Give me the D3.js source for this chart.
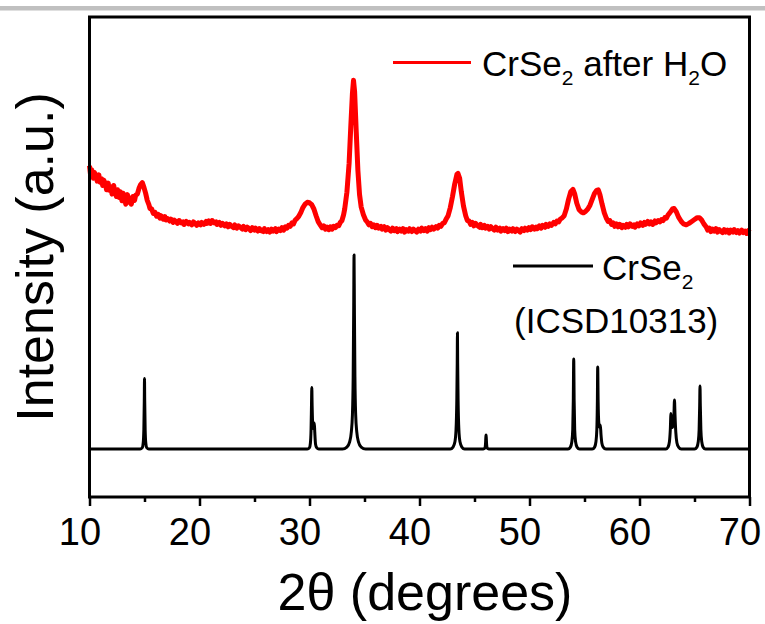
<!DOCTYPE html>
<html>
<head>
<meta charset="utf-8">
<script src="https://cdn.jsdelivr.net/npm/d3@7"></script>
<style>
body { margin: 0; background: #fff; }
text { font-family: "Liberation Sans", Arial, sans-serif; fill: #000; }
</style>
</head>
<body>
<div id="chart"></div>
<script>
// tick values on the 2theta axis
var xTicks = [10, 20, 30, 40, 50, 60, 70];
var xMinorTicks = [15, 25, 35, 45, 55, 65];

// measured pattern, CrSe2 after H2O  [2theta, intensity]
var afterH2O = [
    [10.0, 69.0], [10.1, 67.0], [10.2, 68.2], [10.35, 66.4], [10.45, 67.6], [10.6, 66.9], [10.7, 65.8],
    [10.85, 67.1], [10.95, 65.6], [11.1, 66.3], [11.2, 64.9], [11.3, 66.0], [11.45, 65.2], [11.55, 64.0],
    [11.7, 65.4], [11.8, 63.9], [11.95, 64.6], [12.05, 63.1], [12.2, 64.9], [12.3, 63.5], [12.45, 62.6],
    [12.55, 64.0], [12.7, 62.4], [12.8, 63.6], [12.95, 61.7], [13.05, 63.3], [13.2, 62.2], [13.3, 61.0],
    [13.45, 63.0], [13.55, 61.4], [13.7, 62.3], [13.8, 61.0], [13.95, 62.6], [14.1, 61.8], [14.2, 62.9],
    [14.35, 63.1], [14.5, 64.3], [14.65, 65.1], [14.8, 65.5], [14.95, 64.5], [15.1, 63.3], [15.25, 61.8],
    [15.4, 60.9], [15.5, 60.1], [15.65, 60.0], [15.8, 59.1], [15.95, 59.3], [16.1, 58.5], [16.25, 58.9],
    [16.4, 58.1], [16.5, 58.6], [16.7, 57.9], [16.85, 58.4], [16.95, 57.7], [17.1, 58.0], [17.3, 57.5],
    [17.4, 57.9], [17.6, 57.2], [17.7, 57.7], [17.85, 57.4], [18.0, 57.0], [18.15, 57.6], [18.35, 57.1],
    [18.5, 57.3], [18.6, 56.8], [18.8, 57.4], [19.0, 56.9], [19.1, 57.2], [19.3, 56.7], [19.45, 57.3],
    [19.6, 57.0], [19.75, 56.6], [19.9, 57.1], [20.1, 56.7], [20.2, 57.2], [20.4, 56.8], [20.6, 57.4],
    [20.7, 57.0], [20.85, 57.5], [21.0, 57.0], [21.15, 57.6], [21.35, 57.1], [21.5, 57.3], [21.6, 56.8],
    [21.8, 57.2], [21.95, 56.6], [22.1, 57.0], [22.3, 56.5], [22.45, 56.9], [22.6, 56.3], [22.75, 56.8],
    [22.9, 56.4], [23.1, 56.1], [23.2, 56.7], [23.4, 56.0], [23.55, 56.5], [23.7, 56.2], [23.9, 55.8],
    [24.0, 56.4], [24.2, 55.7], [24.35, 56.2], [24.5, 55.9], [24.65, 55.5], [24.8, 56.1], [25.0, 55.6],
    [25.1, 56.0], [25.3, 55.4], [25.45, 55.9], [25.6, 55.5], [25.8, 55.3], [25.9, 55.9], [26.1, 55.3],
    [26.25, 55.7], [26.4, 55.2], [26.55, 55.8], [26.7, 55.4], [26.9, 55.9], [27.0, 55.3], [27.2, 55.8],
    [27.35, 55.5], [27.5, 56.1], [27.65, 55.6], [27.8, 56.3], [27.95, 56.0], [28.1, 56.6], [28.25, 56.4],
    [28.4, 57.1], [28.55, 56.9], [28.7, 57.7], [28.85, 58.0], [29.0, 58.4], [29.2, 59.2], [29.4, 60.3],
    [29.6, 61.0], [29.8, 61.4], [30.0, 61.3], [30.2, 60.9], [30.4, 60.0], [30.6, 58.6], [30.8, 57.3],
    [31.0, 56.6], [31.15, 56.1], [31.3, 56.5], [31.45, 55.8], [31.6, 56.2], [31.75, 55.7], [31.9, 56.3],
    [32.05, 55.8], [32.2, 56.4], [32.35, 56.1], [32.5, 56.6], [32.65, 56.5], [32.8, 57.2], [32.95, 57.6],
    [33.1, 58.8], [33.2, 60.0], [33.4, 63.5], [33.6, 69.5], [33.75, 77.0], [33.9, 84.0], [34.0, 86.8],
    [34.1, 84.5], [34.25, 76.0], [34.4, 68.0], [34.55, 63.0], [34.7, 60.4], [34.9, 58.8], [35.1, 57.7],
    [35.25, 57.3], [35.4, 56.7], [35.55, 57.0], [35.7, 56.3], [35.85, 56.7], [36.0, 56.1], [36.15, 56.6],
    [36.3, 56.0], [36.5, 56.4], [36.6, 55.8], [36.8, 56.3], [36.95, 55.6], [37.1, 56.1], [37.25, 55.7],
    [37.4, 55.4], [37.55, 56.0], [37.7, 55.5], [37.9, 55.9], [38.0, 55.3], [38.2, 55.8], [38.35, 55.4],
    [38.5, 55.9], [38.65, 55.2], [38.8, 55.7], [39.0, 55.4], [39.1, 55.9], [39.3, 55.3], [39.45, 55.8],
    [39.6, 55.5], [39.75, 55.2], [39.9, 55.8], [40.1, 55.4], [40.2, 56.0], [40.4, 55.5], [40.55, 55.9],
    [40.7, 55.4], [40.85, 56.1], [41.0, 55.7], [41.15, 56.2], [41.3, 55.8], [41.5, 56.3], [41.65, 56.0],
    [41.8, 56.6], [41.95, 56.4], [42.1, 57.0], [42.25, 57.1], [42.4, 57.8], [42.6, 58.6], [42.8, 60.3],
    [43.0, 62.6], [43.2, 65.2], [43.4, 67.2], [43.5, 67.4], [43.65, 66.4], [43.8, 63.6], [44.0, 60.6],
    [44.2, 58.6], [44.35, 57.6], [44.5, 57.5], [44.65, 56.8], [44.8, 57.2], [44.95, 56.5], [45.1, 57.0],
    [45.25, 56.6], [45.45, 56.2], [45.55, 56.8], [45.7, 56.1], [45.9, 56.6], [46.0, 56.0], [46.2, 56.4],
    [46.35, 55.8], [46.5, 56.3], [46.65, 55.9], [46.8, 55.6], [46.95, 56.2], [47.1, 55.6], [47.3, 56.0],
    [47.4, 55.4], [47.6, 55.9], [47.75, 55.5], [47.9, 56.0], [48.05, 55.3], [48.2, 55.8], [48.4, 55.4],
    [48.5, 55.9], [48.7, 55.3], [48.85, 55.8], [49.0, 55.5], [49.15, 55.2], [49.3, 55.9], [49.5, 55.5],
    [49.6, 56.0], [49.8, 55.6], [49.95, 56.1], [50.1, 55.7], [50.25, 56.3], [50.45, 55.8], [50.6, 56.2],
    [50.7, 55.9], [50.9, 56.5], [51.05, 56.0], [51.2, 56.6], [51.4, 56.2], [51.5, 56.8], [51.7, 56.4],
    [51.85, 56.9], [52.0, 56.6], [52.2, 57.2], [52.35, 56.9], [52.5, 57.5], [52.65, 57.3], [52.8, 57.9],
    [52.95, 58.1], [53.15, 58.6], [53.35, 60.0], [53.55, 62.0], [53.75, 63.6], [53.95, 64.1], [54.1, 63.2],
    [54.3, 61.2], [54.5, 59.9], [54.7, 59.4], [54.9, 59.2], [55.1, 59.5], [55.3, 60.0], [55.5, 60.8],
    [55.7, 62.0], [55.9, 63.2], [56.1, 63.9], [56.25, 64.0], [56.4, 63.0], [56.6, 61.0], [56.8, 59.2],
    [57.0, 58.0], [57.15, 57.4], [57.3, 57.6], [57.45, 56.8], [57.6, 57.1], [57.75, 56.4], [57.9, 56.9],
    [58.05, 56.3], [58.2, 56.8], [58.4, 56.1], [58.5, 56.6], [58.7, 56.2], [58.85, 56.8], [59.0, 56.3],
    [59.15, 56.9], [59.35, 56.4], [59.5, 56.7], [59.6, 56.2], [59.8, 56.9], [59.95, 56.5], [60.1, 57.1],
    [60.3, 56.6], [60.45, 57.2], [60.55, 56.8], [60.75, 57.4], [60.9, 56.9], [61.05, 57.3], [61.2, 56.8],
    [61.4, 57.5], [61.5, 57.1], [61.7, 57.6], [61.85, 57.3], [62.0, 57.8], [62.15, 57.6], [62.3, 58.2],
    [62.45, 58.1], [62.6, 58.8], [62.75, 59.2], [63.0, 60.0], [63.15, 60.1], [63.35, 59.4], [63.55, 58.3],
    [63.8, 57.4], [64.0, 56.9], [64.25, 56.7], [64.5, 57.0], [64.75, 57.4], [65.0, 57.8], [65.25, 58.2],
    [65.45, 58.2], [65.65, 57.7], [65.85, 56.9], [66.05, 56.3], [66.2, 55.6], [66.35, 56.0], [66.5, 55.3],
    [66.65, 55.8], [66.8, 55.4], [66.95, 55.9], [67.1, 55.2], [67.25, 55.7], [67.4, 55.4], [67.55, 55.1],
    [67.7, 55.7], [67.85, 55.2], [68.0, 55.6], [68.15, 55.0], [68.3, 55.6], [68.5, 55.2], [68.6, 55.7],
    [68.8, 55.1], [68.95, 55.5], [69.1, 55.0], [69.3, 55.6], [69.45, 55.1], [69.6, 55.4], [69.75, 54.9],
    [69.9, 55.5], [70.0, 55.2]
];

// reference pattern, CrSe2 (ICSD10313)  [2theta, intensity]
var icsd10313 = [
    [10.0, 10],
    [14.6, 10], [14.8, 10.3], [14.88, 11.2], [14.94, 14], [14.98, 20], [15.0, 24.7], [15.02, 20],
    [15.06, 14], [15.12, 11.2], [15.2, 10.3], [15.4, 10],
    [29.8, 10], [30.0, 10.3], [30.08, 11.2], [30.14, 14], [30.18, 19], [30.21, 22.8], [30.24, 19],
    [30.3, 15], [30.38, 14.2], [30.44, 15.4], [30.48, 13.5], [30.55, 11], [30.65, 10.3], [30.85, 10],
    [33.0, 10], [33.4, 10.4], [33.65, 11.5], [33.8, 13.5], [33.9, 17], [33.97, 25], [34.02, 40],
    [34.05, 50.4], [34.08, 40], [34.13, 25], [34.2, 17], [34.3, 13.5], [34.45, 11.5], [34.7, 10.4], [35.1, 10],
    [42.8, 10], [43.05, 10.4], [43.22, 11.5], [43.32, 14], [43.39, 20], [43.43, 28], [43.45, 34.2],
    [43.47, 28], [43.51, 20], [43.58, 14], [43.68, 11.5], [43.85, 10.4], [44.1, 10],
    [45.8, 10], [45.95, 10.2], [46.0, 11], [46.03, 12.4], [46.05, 12.9], [46.07, 12.4], [46.1, 11],
    [46.15, 10.2], [46.3, 10],
    [53.5, 10], [53.72, 10.4], [53.85, 11.5], [53.93, 14], [53.98, 20], [54.02, 28.75], [54.06, 20],
    [54.11, 14], [54.19, 11.5], [54.32, 10.4], [54.55, 10],
    [55.7, 10], [55.92, 10.4], [56.04, 11.5], [56.12, 14], [56.17, 20], [56.2, 27.1], [56.24, 20],
    [56.3, 15.5], [56.38, 14.5], [56.44, 15], [56.5, 13], [56.58, 11.2], [56.7, 10.4], [56.95, 10],
    [62.4, 10], [62.6, 10.4], [62.72, 11.5], [62.8, 14], [62.86, 17.4], [62.92, 15], [62.98, 14.5],
    [63.06, 15], [63.13, 17], [63.18, 20.2], [63.23, 17], [63.3, 13.5], [63.4, 11.3], [63.55, 10.4], [63.8, 10],
    [65.0, 10], [65.22, 10.4], [65.34, 11.5], [65.42, 14], [65.47, 19], [65.5, 23.1], [65.53, 19],
    [65.58, 14], [65.66, 11.5], [65.78, 10.4], [66.0, 10],
    [70.0, 10]
];

var seriesColors = ["#ff0000", "#000000"];

function init() {

    var w = 765;
    var h = 624;
    var left = 89.5, right = 749.5, top = 17, bottom = 497;

    var xScale = d3.scaleLinear()
        .domain([10, 70])
        .range([left, right]);

    var yScale = d3.scaleLinear()
        .domain([0, 100])
        .range([bottom, top]);

    var svg = d3.select("#chart")
        .append("svg")
        .attr("width", w)
        .attr("height", h);

    svg.append("rect")
        .attr("width", w)
        .attr("height", h)
        .attr("fill", "#fff");

    // grey strip at the very top of the picture
    svg.append("rect")
        .attr("x", 0)
        .attr("y", 6)
        .attr("width", w)
        .attr("height", 4.5)
        .attr("fill", "#c0c0c0");

    var line = d3.line()
        .x(function (d) { return xScale(d[0]); })
        .y(function (d) { return yScale(d[1]); });

    svg.append("path")
        .datum(icsd10313)
        .attr("d", line.curve(d3.curveMonotoneX))
        .attr("fill", "none")
        .attr("stroke", seriesColors[1])
        .attr("stroke-width", 3)
        .attr("stroke-linejoin", "round");

    svg.append("path")
        .datum(afterH2O)
        .attr("d", line.curve(d3.curveLinear))
        .attr("fill", "none")
        .attr("stroke", seriesColors[0])
        .attr("stroke-width", 5)
        .attr("stroke-linejoin", "round");

    // frame
    svg.append("rect")
        .attr("x", left)
        .attr("y", top)
        .attr("width", right - left)
        .attr("height", bottom - top)
        .attr("fill", "none")
        .attr("stroke", "#000")
        .attr("stroke-width", 3);

    //minor ticks
    svg.append("g")
        .attr("transform", "translate(0," + bottom + ")")
        .call(d3.axisBottom(xScale).tickValues(xMinorTicks).tickSize(5).tickFormat(""))
        .call(function (g) { g.select(".domain").remove(); })
        .selectAll("line")
        .attr("stroke-width", 2.5);

    //major ticks + labels
    var xAxis = svg.append("g")
        .attr("transform", "translate(0," + bottom + ")")
        .call(d3.axisBottom(xScale).tickValues(xTicks).tickSize(9));
    xAxis.select(".domain").remove();
    xAxis.selectAll("line").attr("stroke-width", 2.5);
    xAxis.selectAll("text")
        .attr("y", 48)
        .attr("dy", 0)
        .attr("dx", -10)
        .style("font-family", "'Liberation Sans', Arial, sans-serif")
        .style("font-size", "38px")
        .attr("fill", "#000");

    svg.append("text")
        .attr("x", 425)
        .attr("y", 610)
        .attr("text-anchor", "middle")
        .style("font-size", "52px")
        .text("2θ (degrees)");

    svg.append("text")
        .attr("transform", "translate(52.5," + ((top + bottom) / 2) + ") rotate(-90)")
        .attr("text-anchor", "middle")
        .style("font-size", "52px")
        .text("Intensity (a.u.)");

    // legend, red series
    svg.append("line")
        .attr("x1", 393).attr("x2", 471)
        .attr("y1", 62.5).attr("y2", 62.5)
        .attr("stroke", seriesColors[0])
        .attr("stroke-width", 3);

    var t1 = svg.append("text")
        .attr("x", 482)
        .attr("y", 75.7)
        .style("font-size", "35px");
    t1.append("tspan").text("CrSe");
    t1.append("tspan").attr("dy", 9).style("font-size", "21px").text("2");
    t1.append("tspan").attr("dy", -9).text(" after H");
    t1.append("tspan").attr("dy", 9).style("font-size", "21px").text("2");
    t1.append("tspan").attr("dy", -9).text("O");

    // legend, black series
    svg.append("line")
        .attr("x1", 513).attr("x2", 593)
        .attr("y1", 266).attr("y2", 266)
        .attr("stroke", seriesColors[1])
        .attr("stroke-width", 3);

    var t2 = svg.append("text")
        .attr("x", 602)
        .attr("y", 280)
        .style("font-size", "35px");
    t2.append("tspan").text("CrSe");
    t2.append("tspan").attr("dy", 9).style("font-size", "21px").text("2");

    svg.append("text")
        .attr("x", 514)
        .attr("y", 333)
        .style("font-size", "35px")
        .text("(ICSD10313)");
}

window.onload = init;
</script>
</body>
</html>
